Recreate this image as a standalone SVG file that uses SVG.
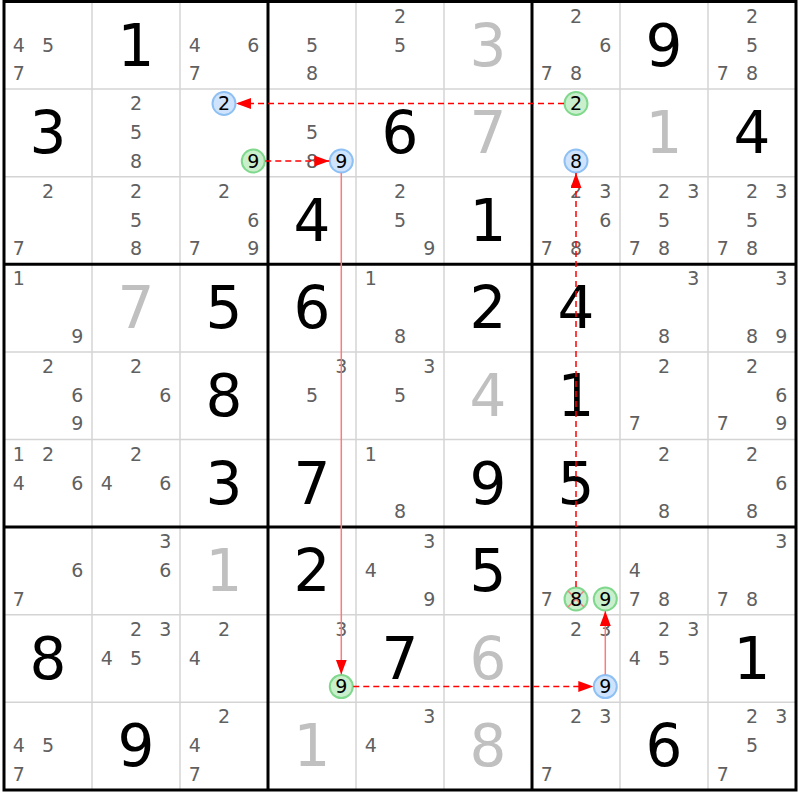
<svg xmlns="http://www.w3.org/2000/svg" width="800" height="800" viewBox="0 0 800 800">
<style>
.c{font-family:"DejaVu Sans","Liberation Sans",sans-serif;font-size:19px;fill:#606060;text-anchor:middle}
.k{font-family:"DejaVu Sans","Liberation Sans",sans-serif;font-size:19px;fill:#000;text-anchor:middle}
.b{font-family:"DejaVu Sans","Liberation Sans",sans-serif;font-size:58px;fill:#000;text-anchor:middle}
.s{font-family:"DejaVu Sans","Liberation Sans",sans-serif;font-size:58px;fill:#c0c0c0;text-anchor:middle}
.bl{fill:#cfe4fc;stroke:#8ec0f4;stroke-width:2}
.gr{fill:#c9efcc;stroke:#7fd88c;stroke-width:2}
.thin{stroke:#d4d4d4;stroke-width:1.5}
.thick{stroke:#000;stroke-width:3}
.dash{stroke:#ff0000;stroke-width:1.5;stroke-dasharray:6 4;fill:none}
.sol{stroke:#ff7a7a;stroke-width:1.5;fill:none}
</style>
<defs>
<marker id="ah" markerUnits="userSpaceOnUse" markerWidth="16" markerHeight="12" refX="15" refY="5.5" orient="auto">
<path d="M0,0 L15,5.5 L0,11 Z" fill="#ff0000"/>
</marker>
</defs>
<rect x="0" y="0" width="800" height="800" fill="#fff"/>
<g id="grid">
<g class="thin">
<line x1="92" y1="1.5" x2="92" y2="790"/><line x1="180" y1="1.5" x2="180" y2="790"/>
<line x1="356" y1="1.5" x2="356" y2="790"/><line x1="444" y1="1.5" x2="444" y2="790"/>
<line x1="620" y1="1.5" x2="620" y2="790"/><line x1="708" y1="1.5" x2="708" y2="790"/>
<line x1="4" y1="89.1" x2="796" y2="89.1"/><line x1="4" y1="176.7" x2="796" y2="176.7"/>
<line x1="4" y1="351.9" x2="796" y2="351.9"/><line x1="4" y1="439.5" x2="796" y2="439.5"/>
<line x1="4" y1="614.7" x2="796" y2="614.7"/><line x1="4" y1="702.3" x2="796" y2="702.3"/>
</g>
<g class="thick">
<line x1="268" y1="1.5" x2="268" y2="790"/><line x1="532" y1="1.5" x2="532" y2="790"/>
<line x1="4" y1="264.3" x2="796" y2="264.3"/><line x1="4" y1="527.1" x2="796" y2="527.1"/>
</g>
<rect x="4" y="1.5" width="792" height="788.5" fill="none" stroke="#000" stroke-width="3"/>
</g>
<g id="r1">
<g id="r1c1"><text class="c" x="18.7" y="51.5">4</text><text class="c" x="48" y="51.5">5</text><text class="c" x="18.7" y="80">7</text></g>
<g id="r1c2"><text class="b" x="136" y="65.5">1</text></g>
<g id="r1c3"><text class="c" x="194.7" y="51.5">4</text><text class="c" x="253.3" y="51.5">6</text><text class="c" x="194.7" y="80">7</text></g>
<g id="r1c4"><text class="c" x="312" y="51.5">5</text><text class="c" x="312" y="80">8</text></g>
<g id="r1c5"><text class="c" x="400" y="22.5">2</text><text class="c" x="400" y="51.5">5</text></g>
<g id="r1c6"><text class="s" x="488" y="65.5">3</text></g>
<g id="r1c7"><text class="c" x="576" y="22.5">2</text><text class="c" x="605.3" y="51.5">6</text><text class="c" x="546.7" y="80">7</text><text class="c" x="576" y="80">8</text></g>
<g id="r1c8"><text class="b" x="664" y="65.5">9</text></g>
<g id="r1c9"><text class="c" x="752" y="22.5">2</text><text class="c" x="752" y="51.5">5</text><text class="c" x="722.7" y="80">7</text><text class="c" x="752" y="80">8</text></g>
</g>
<g id="r2">
<g id="r2c1"><text class="b" x="48" y="153.1">3</text></g>
<g id="r2c2"><text class="c" x="136" y="110.1">2</text><text class="c" x="136" y="139.1">5</text><text class="c" x="136" y="167.6">8</text></g>
<g id="r2c3"><circle class="bl" cx="224" cy="103.5" r="11.5"/><text class="k" x="224" y="110.3">2</text><circle class="gr" cx="253.3" cy="161" r="11.5"/><text class="k" x="253.3" y="167.8">9</text></g>
<g id="r2c4"><text class="c" x="312" y="139.1">5</text><text class="c" x="312" y="167.6">8</text><circle class="bl" cx="341.3" cy="161" r="11.5"/><text class="k" x="341.3" y="167.8">9</text></g>
<g id="r2c5"><text class="b" x="400" y="153.1">6</text></g>
<g id="r2c6"><text class="s" x="488" y="153.1">7</text></g>
<g id="r2c7"><circle class="gr" cx="576" cy="103.5" r="11.5"/><text class="k" x="576" y="110.3">2</text><circle class="bl" cx="576" cy="161" r="11.5"/><text class="k" x="576" y="167.8">8</text></g>
<g id="r2c8"><text class="s" x="664" y="153.1">1</text></g>
<g id="r2c9"><text class="b" x="752" y="153.1">4</text></g>
</g>
<g id="r3">
<g id="r3c1"><text class="c" x="48" y="197.7">2</text><text class="c" x="18.7" y="255.2">7</text></g>
<g id="r3c2"><text class="c" x="136" y="197.7">2</text><text class="c" x="136" y="226.7">5</text><text class="c" x="136" y="255.2">8</text></g>
<g id="r3c3"><text class="c" x="224" y="197.7">2</text><text class="c" x="253.3" y="226.7">6</text><text class="c" x="194.7" y="255.2">7</text><text class="c" x="253.3" y="255.2">9</text></g>
<g id="r3c4"><text class="b" x="312" y="240.7">4</text></g>
<g id="r3c5"><text class="c" x="400" y="197.7">2</text><text class="c" x="400" y="226.7">5</text><text class="c" x="429.3" y="255.2">9</text></g>
<g id="r3c6"><text class="b" x="488" y="240.7">1</text></g>
<g id="r3c7"><text class="c" x="576" y="197.7">2</text><text class="c" x="605.3" y="197.7">3</text><text class="c" x="605.3" y="226.7">6</text><text class="c" x="546.7" y="255.2">7</text><text class="c" x="576" y="255.2">8</text></g>
<g id="r3c8"><text class="c" x="664" y="197.7">2</text><text class="c" x="693.3" y="197.7">3</text><text class="c" x="664" y="226.7">5</text><text class="c" x="634.7" y="255.2">7</text><text class="c" x="664" y="255.2">8</text></g>
<g id="r3c9"><text class="c" x="752" y="197.7">2</text><text class="c" x="781.3" y="197.7">3</text><text class="c" x="752" y="226.7">5</text><text class="c" x="722.7" y="255.2">7</text><text class="c" x="752" y="255.2">8</text></g>
</g>
<g id="r4">
<g id="r4c1"><text class="c" x="18.7" y="285.3">1</text><text class="c" x="77.3" y="342.8">9</text></g>
<g id="r4c2"><text class="s" x="136" y="328.3">7</text></g>
<g id="r4c3"><text class="b" x="224" y="328.3">5</text></g>
<g id="r4c4"><text class="b" x="312" y="328.3">6</text></g>
<g id="r4c5"><text class="c" x="370.7" y="285.3">1</text><text class="c" x="400" y="342.8">8</text></g>
<g id="r4c6"><text class="b" x="488" y="328.3">2</text></g>
<g id="r4c7"><text class="b" x="576" y="328.3">4</text></g>
<g id="r4c8"><text class="c" x="693.3" y="285.3">3</text><text class="c" x="664" y="342.8">8</text></g>
<g id="r4c9"><text class="c" x="781.3" y="285.3">3</text><text class="c" x="752" y="342.8">8</text><text class="c" x="781.3" y="342.8">9</text></g>
</g>
<g id="r5">
<g id="r5c1"><text class="c" x="48" y="372.9">2</text><text class="c" x="77.3" y="401.9">6</text><text class="c" x="77.3" y="430.4">9</text></g>
<g id="r5c2"><text class="c" x="136" y="372.9">2</text><text class="c" x="165.3" y="401.9">6</text></g>
<g id="r5c3"><text class="b" x="224" y="415.9">8</text></g>
<g id="r5c4"><text class="c" x="341.3" y="372.9">3</text><text class="c" x="312" y="401.9">5</text></g>
<g id="r5c5"><text class="c" x="429.3" y="372.9">3</text><text class="c" x="400" y="401.9">5</text></g>
<g id="r5c6"><text class="s" x="488" y="415.9">4</text></g>
<g id="r5c7"><text class="b" x="576" y="415.9">1</text></g>
<g id="r5c8"><text class="c" x="664" y="372.9">2</text><text class="c" x="634.7" y="430.4">7</text></g>
<g id="r5c9"><text class="c" x="752" y="372.9">2</text><text class="c" x="781.3" y="401.9">6</text><text class="c" x="722.7" y="430.4">7</text><text class="c" x="781.3" y="430.4">9</text></g>
</g>
<g id="r6">
<g id="r6c1"><text class="c" x="18.7" y="460.5">1</text><text class="c" x="48" y="460.5">2</text><text class="c" x="18.7" y="489.5">4</text><text class="c" x="77.3" y="489.5">6</text></g>
<g id="r6c2"><text class="c" x="136" y="460.5">2</text><text class="c" x="106.7" y="489.5">4</text><text class="c" x="165.3" y="489.5">6</text></g>
<g id="r6c3"><text class="b" x="224" y="503.5">3</text></g>
<g id="r6c4"><text class="b" x="312" y="503.5">7</text></g>
<g id="r6c5"><text class="c" x="370.7" y="460.5">1</text><text class="c" x="400" y="518">8</text></g>
<g id="r6c6"><text class="b" x="488" y="503.5">9</text></g>
<g id="r6c7"><text class="b" x="576" y="503.5">5</text></g>
<g id="r6c8"><text class="c" x="664" y="460.5">2</text><text class="c" x="664" y="518">8</text></g>
<g id="r6c9"><text class="c" x="752" y="460.5">2</text><text class="c" x="781.3" y="489.5">6</text><text class="c" x="752" y="518">8</text></g>
</g>
<g id="r7">
<g id="r7c1"><text class="c" x="77.3" y="577.1">6</text><text class="c" x="18.7" y="605.6">7</text></g>
<g id="r7c2"><text class="c" x="165.3" y="548.1">3</text><text class="c" x="165.3" y="577.1">6</text></g>
<g id="r7c3"><text class="s" x="224" y="591.1">1</text></g>
<g id="r7c4"><text class="b" x="312" y="591.1">2</text></g>
<g id="r7c5"><text class="c" x="429.3" y="548.1">3</text><text class="c" x="370.7" y="577.1">4</text><text class="c" x="429.3" y="605.6">9</text></g>
<g id="r7c6"><text class="b" x="488" y="591.1">5</text></g>
<g id="r7c7"><text class="c" x="546.7" y="605.6">7</text><circle class="gr" cx="576" cy="599" r="11.5"/><path d="M568,591 L584,607 M584,591 L568,607" stroke="#f08080" stroke-width="1.5"/><text class="k" x="576" y="605.8">8</text><circle class="gr" cx="605.3" cy="599" r="11.5"/><text class="k" x="605.3" y="605.8">9</text></g>
<g id="r7c8"><text class="c" x="634.7" y="577.1">4</text><text class="c" x="634.7" y="605.6">7</text><text class="c" x="664" y="605.6">8</text></g>
<g id="r7c9"><text class="c" x="781.3" y="548.1">3</text><text class="c" x="722.7" y="605.6">7</text><text class="c" x="752" y="605.6">8</text></g>
</g>
<g id="r8">
<g id="r8c1"><text class="b" x="48" y="678.7">8</text></g>
<g id="r8c2"><text class="c" x="136" y="635.7">2</text><text class="c" x="165.3" y="635.7">3</text><text class="c" x="106.7" y="664.7">4</text><text class="c" x="136" y="664.7">5</text></g>
<g id="r8c3"><text class="c" x="224" y="635.7">2</text><text class="c" x="194.7" y="664.7">4</text></g>
<g id="r8c4"><text class="c" x="341.3" y="635.7">3</text><circle class="gr" cx="341.3" cy="686.6" r="11.5"/><text class="k" x="341.3" y="693.4">9</text></g>
<g id="r8c5"><text class="b" x="400" y="678.7">7</text></g>
<g id="r8c6"><text class="s" x="488" y="678.7">6</text></g>
<g id="r8c7"><text class="c" x="576" y="635.7">2</text><text class="c" x="605.3" y="635.7">3</text><circle class="bl" cx="605.3" cy="686.6" r="11.5"/><text class="k" x="605.3" y="693.4">9</text></g>
<g id="r8c8"><text class="c" x="664" y="635.7">2</text><text class="c" x="693.3" y="635.7">3</text><text class="c" x="634.7" y="664.7">4</text><text class="c" x="664" y="664.7">5</text></g>
<g id="r8c9"><text class="b" x="752" y="678.7">1</text></g>
</g>
<g id="r9">
<g id="r9c1"><text class="c" x="18.7" y="752.3">4</text><text class="c" x="48" y="752.3">5</text><text class="c" x="18.7" y="780.8">7</text></g>
<g id="r9c2"><text class="b" x="136" y="766.3">9</text></g>
<g id="r9c3"><text class="c" x="224" y="723.3">2</text><text class="c" x="194.7" y="752.3">4</text><text class="c" x="194.7" y="780.8">7</text></g>
<g id="r9c4"><text class="s" x="312" y="766.3">1</text></g>
<g id="r9c5"><text class="c" x="429.3" y="723.3">3</text><text class="c" x="370.7" y="752.3">4</text></g>
<g id="r9c6"><text class="s" x="488" y="766.3">8</text></g>
<g id="r9c7"><text class="c" x="576" y="723.3">2</text><text class="c" x="605.3" y="723.3">3</text><text class="c" x="546.7" y="780.8">7</text></g>
<g id="r9c8"><text class="b" x="664" y="766.3">6</text></g>
<g id="r9c9"><text class="c" x="752" y="723.3">2</text><text class="c" x="781.3" y="723.3">3</text><text class="c" x="752" y="752.3">5</text><text class="c" x="722.7" y="780.8">7</text></g>
</g>
<g id="connectors">
<line class="dash" x1="564" y1="103.5" x2="236" y2="103.5" marker-end="url(#ah)"/>
<line class="dash" x1="265.3" y1="161" x2="329.3" y2="161" marker-end="url(#ah)"/>
<line class="sol" x1="341.3" y1="173" x2="341.3" y2="674.6" marker-end="url(#ah)"/>
<line class="dash" x1="353.3" y1="686.6" x2="593.3" y2="686.6" marker-end="url(#ah)"/>
<line class="sol" x1="605.3" y1="674.6" x2="605.3" y2="611" marker-end="url(#ah)"/>
<line class="dash" x1="576" y1="587" x2="576" y2="173" marker-end="url(#ah)"/>
</g>
</svg>
